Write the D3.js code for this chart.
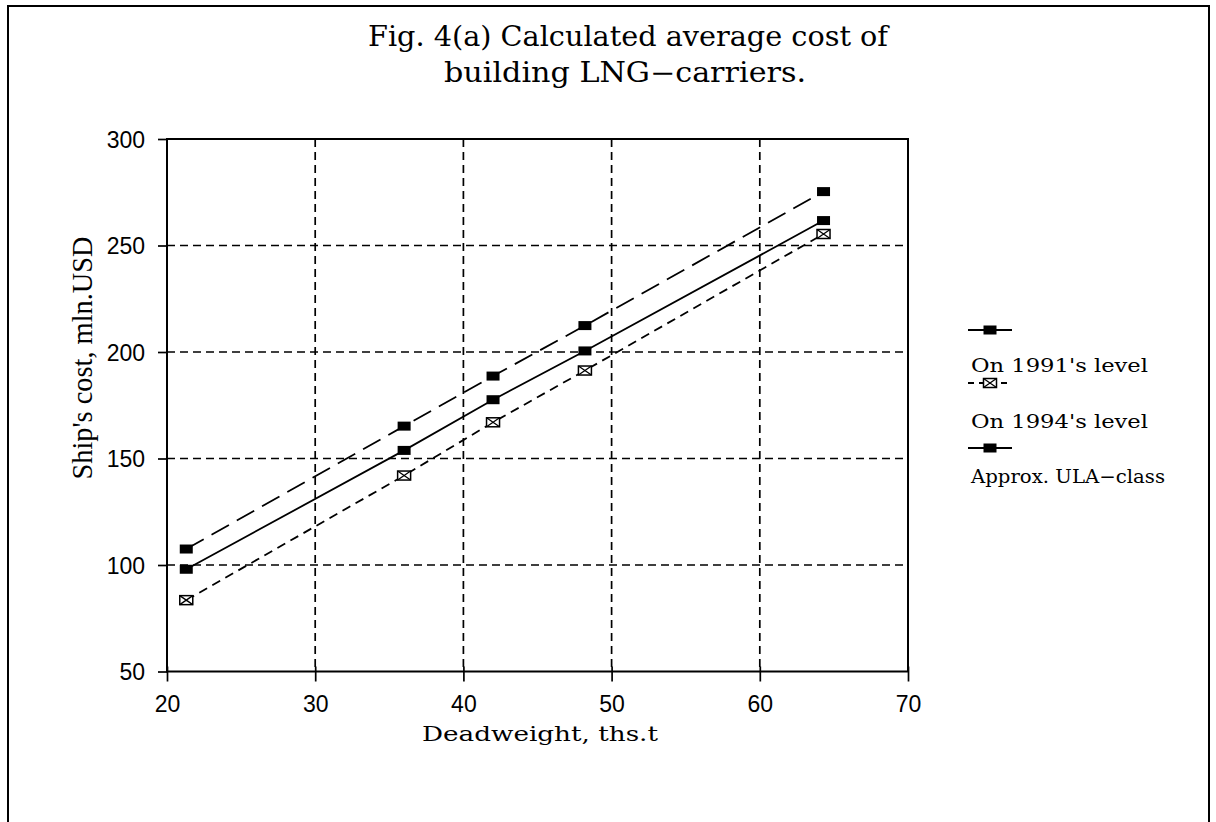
<!DOCTYPE html>
<html>
<head>
<meta charset="utf-8">
<script src="https://cdn.jsdelivr.net/npm/d3@7"></script>
<style>
  html, body { margin: 0; padding: 0; background: #fff; }
  svg { display: block; }
</style>
</head>
<body>
<svg id="chart" width="1216" height="822"></svg>
<script>
// Deadweight of the carriers, thousand tonnes
const deadweight = [21.3, 36.0, 42.0, 48.2, 64.3];
// Ship's cost, mln. USD
const cost1991 = [107.5, 165.2, 188.7, 212.4, 275.3];
const cost1994 = [83.5, 142.0, 167.0, 191.3, 255.4];
const costULA  = [98.0, 153.8, 177.6, 200.5, 261.7];

const xTicks = [20, 30, 40, 50, 60, 70];
const yTicks = [50, 100, 150, 200, 250, 300];

const titleLines = ["Fig. 4(a) Calculated average cost of", "building LNG\u2212carriers."];
const xTitle = "Deadweight, ths.t";
const yTitle = "Ship's cost, mln.USD";
const legendLabels = ["On 1991's level", "On 1994's level", "Approx. ULA\u2212class"];

const svg = d3.select("#chart");

const x = d3.scaleLinear().domain([20, 70]).range([167, 908]);
const y = d3.scaleLinear().domain([50, 300]).range([671.5, 139]);

// page frame
svg.append("path")
  .attr("d", "M8,830 L8,6 L1209,6 L1209,830")
  .attr("fill", "none").attr("stroke", "#000").attr("stroke-width", 2);

// title
const titleFont = "'DejaVu Serif', serif";
svg.append("text").attr("x", 368).attr("y", 46)
  .attr("font-family", titleFont).attr("font-size", 27)
  .attr("textLength", 520).attr("lengthAdjust", "spacingAndGlyphs")
  .text(titleLines[0]);
svg.append("text").attr("x", 444).attr("y", 82)
  .attr("font-family", titleFont).attr("font-size", 27)
  .attr("textLength", 362).attr("lengthAdjust", "spacingAndGlyphs")
  .text(titleLines[1]);

const plot = svg.append("g");

// dashed grid
plot.append("g").selectAll("line").data(xTicks.filter(d => d > 20 && d < 70)).join("line")
  .attr("x1", d => x(d)).attr("x2", d => x(d))
  .attr("y1", y(300)).attr("y2", y(50))
  .attr("stroke", "#000").attr("stroke-width", 1.7).attr("stroke-dasharray", "8,5");
plot.append("g").selectAll("line").data(yTicks.filter(d => d > 50 && d < 300)).join("line")
  .attr("x1", x(20)).attr("x2", x(70))
  .attr("y1", d => y(d)).attr("y2", d => y(d))
  .attr("stroke", "#000").attr("stroke-width", 1.7).attr("stroke-dasharray", "8,5");

// axes
const xAxis = d3.axisBottom(x).tickValues(xTicks).tickSize(10).tickPadding(14);
const yAxis = d3.axisLeft(y).tickValues(yTicks).tickSize(9).tickPadding(13);

const gx = plot.append("g").attr("transform", `translate(0,${y(50)})`).call(xAxis);
const gy = plot.append("g").attr("transform", `translate(${x(20)},0)`).call(yAxis);
[gx, gy].forEach(g => {
  g.select(".domain").remove();
  g.attr("font-size", null).attr("font-family", null);
  g.selectAll(".tick line").attr("stroke", "#000").attr("stroke-width", 1.7);
  g.selectAll(".tick text")
    .style("font-family", "'Liberation Sans', Arial, sans-serif")
    .style("font-size", "23px").attr("fill", "#000");
});
gy.selectAll(".tick text").attr("dy", "0.36em");
gx.selectAll(".tick line").attr("y1", -5);

// plot frame (solid box)
plot.append("rect")
  .attr("x", x(20)).attr("y", y(300))
  .attr("width", x(70) - x(20)).attr("height", y(50) - y(300))
  .attr("fill", "none").attr("stroke", "#000").attr("stroke-width", 2);

// axis titles
svg.append("text").attr("x", 540).attr("y", 741)
  .attr("text-anchor", "middle")
  .attr("font-family", titleFont).attr("font-size", 20)
  .attr("textLength", 236).attr("lengthAdjust", "spacingAndGlyphs")
  .text(xTitle);
svg.append("text")
  .attr("transform", "translate(92,358) rotate(-90)")
  .attr("text-anchor", "middle")
  .attr("font-family", "'Liberation Serif', 'Times New Roman', serif").attr("font-size", 29)
  .attr("textLength", 243).attr("lengthAdjust", "spacingAndGlyphs")
  .text(yTitle);

// series
const series = [
  { values: cost1991, dash: "20,9", marker: "filled" },
  { values: cost1994, dash: "9,6",  marker: "crossed" },
  { values: costULA,  dash: null,   marker: "filled" }
];

const line = d3.line().x(d => x(d[0])).y(d => y(d[1]));

function drawMarker(g, cx, cy, kind) {
  const w = 13, h = 9;
  if (kind === "filled") {
    g.append("rect").attr("x", cx - w / 2).attr("y", cy - h / 2)
      .attr("width", w).attr("height", h).attr("fill", "#000");
  } else {
    g.append("rect").attr("x", cx - w / 2).attr("y", cy - h / 2)
      .attr("width", w).attr("height", h)
      .attr("fill", "#fff").attr("stroke", "#000").attr("stroke-width", 1.5);
    g.append("path")
      .attr("d", `M${cx - w / 2},${cy - h / 2}L${cx + w / 2},${cy + h / 2}M${cx + w / 2},${cy - h / 2}L${cx - w / 2},${cy + h / 2}`)
      .attr("stroke", "#000").attr("stroke-width", 1.3);
  }
}

series.forEach(s => {
  const pts = deadweight.map((d, i) => [d, s.values[i]]);
  plot.append("path").datum(pts)
    .attr("d", line)
    .attr("fill", "none").attr("stroke", "#000").attr("stroke-width", 1.8)
    .attr("stroke-dasharray", s.dash);
  const mg = plot.append("g");
  pts.forEach(p => drawMarker(mg, x(p[0]), y(p[1]), s.marker));
});

// legend
const legendRows = [
  { sy: 330, ty: 372, dash: null, marker: "filled" },
  { sy: 383, ty: 428, dash: "6,5", marker: "crossed" },
  { sy: 448, ty: 483, dash: null, marker: "filled" }
];
legendRows.forEach((r, i) => {
  const g = svg.append("g");
  g.append("line").attr("x1", 968).attr("x2", 1012).attr("y1", r.sy).attr("y2", r.sy)
    .attr("stroke", "#000").attr("stroke-width", 1.8).attr("stroke-dasharray", r.dash);
  drawMarker(g, 990, r.sy, r.marker);
  g.append("text").attr("x", 971).attr("y", r.ty)
    .attr("font-family", titleFont).attr("font-size", 19)
    .attr("textLength", i === 2 ? 194 : 177).attr("lengthAdjust", "spacingAndGlyphs")
    .text(legendLabels[i]);
});
</script>
</body>
</html>
